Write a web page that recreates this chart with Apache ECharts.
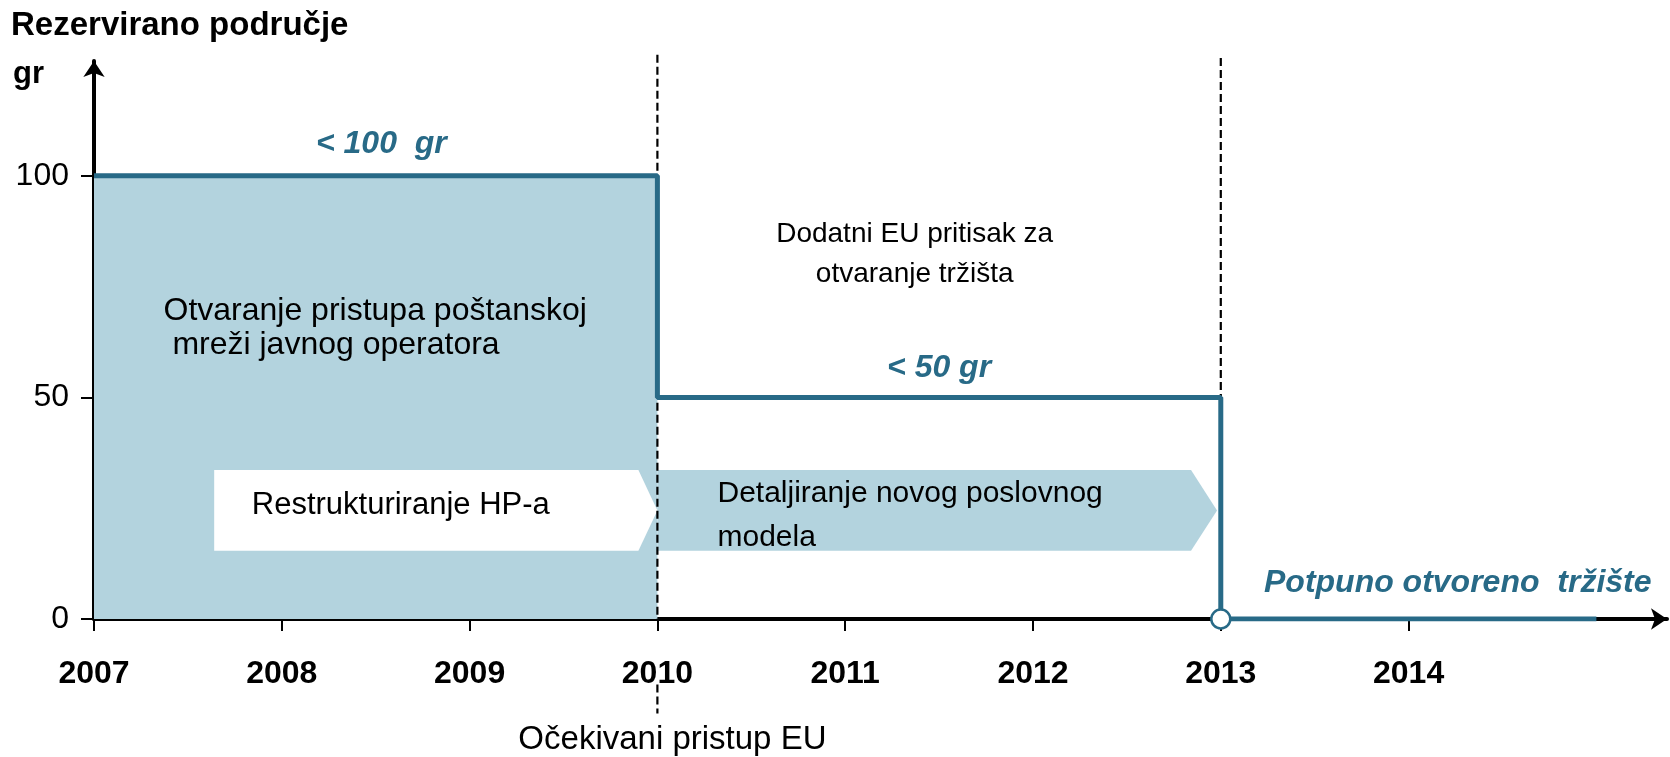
<!DOCTYPE html>
<html><head><meta charset="utf-8">
<script src="https://cdn.jsdelivr.net/npm/echarts@6/dist/echarts.min.js"></script>
<style>html,body{margin:0;padding:0;background:#fff}#c{width:1670px;height:757px}</style>
</head><body><div id="c"></div>
<script>
// ---- data ----
const yearTicks = [2007, 2008, 2009, 2010, 2011, 2012, 2013, 2014];
const valueTicks = [0, 50, 100];
const periodStart = [2007, 2010, 2013];
const periodEnd = [2010, 2013, 2015];
const periodLimit = [100, 50, 0];
const limitLabels = ['< 100  gr', '< 50 gr', 'Potpuno otvoreno  tržište'];
const limitLabelAt = [[2008.53, 107.2], [2011.5, 56.7], [2013.23, 8.0]];
const limitLabelAlign = ['center', 'center', 'left'];
const milestoneYears = [2010, 2013];
const milestoneTop = [127.3, 126.6];
const milestoneLabel = 'Očekivani pristup EU';
const milestoneLabelAt = [2010.08, -27.3];
const phaseNames = ['Restrukturiranje HP-a', 'Detaljiranje novog poslovnog\nmodela'];
const phaseStart = [2007.64, 2010];
const phaseEnd = [2010, 2012.98];
const phaseLow = [15.4, 15.4];
const phaseHigh = [33.6, 33.6];
const phaseTextAt = [[2007.84, 25.6], [2010.32, 23.3]];
const notes = ['Otvaranje pristupa poštanskoj\n mreži javnog operatora', 'Dodatni EU pritisak za\notvaranje tržišta'];
const noteAt = [[2007.37, 65.7], [2011.37, 82.3]];
const noteAlign = ['left', 'center'];

// ---- styles ----
const FONT = '"Liberation Sans", Arial, Helvetica, sans-serif';
const BLUE = '#286a87';
const FILL = '#b3d3de';
const X_MAX = 2015.376, Y_MAX = 125.9;
const phaseFont = [31, 30];
const noteFont = [32, 28];
const noteLH = [34, 40];

const chart = echarts.init(document.getElementById('c'), null, {renderer: 'canvas'});

const stepData = [];
periodStart.forEach((s, i) => { stepData.push([s, periodLimit[i]]); stepData.push([periodEnd[i], periodLimit[i]]); });

const option = {
  animation: false,
  backgroundColor: '#fff',
  title: [
    {text: 'Rezervirano područje', left: 6, top: 4, textStyle: {fontFamily: FONT, fontSize: 33, fontWeight: 'bold', color: '#000'}},
    {text: 'gr', left: 8, top: 54, textStyle: {fontFamily: FONT, fontSize: 31, fontWeight: 'bold', color: '#000'}}
  ],
  grid: {left: 94, right: 3, top: 61, bottom: 138, containLabel: false},
  xAxis: {
    type: 'value', min: 2007, max: X_MAX,
    splitLine: {show: false},
    axisLine: {lineStyle: {color: '#000', width: 4}, symbol: ['none', 'arrow'], symbolSize: [16, 16]},
    axisTick: {customValues: yearTicks, length: 12, lineStyle: {color: '#000', width: 2}},
    axisLabel: {customValues: yearTicks, formatter: v => String(v), margin: 39, fontFamily: FONT, fontSize: 32, fontWeight: 'bold', color: '#000'}
  },
  yAxis: {
    type: 'value', min: 0, max: Y_MAX,
    splitLine: {show: false},
    axisLine: {onZero: false, lineStyle: {color: '#000', width: 4}, symbol: ['none', 'arrow'], symbolSize: [16, 16]},
    axisTick: {customValues: valueTicks, length: 13, lineStyle: {color: '#000', width: 2}},
    axisLabel: {customValues: valueTicks, margin: 25, fontFamily: FONT, fontSize: 32, color: '#000'}
  },
  series: [
    { // filled reserved area of the first period
      type: 'custom', z: 1, silent: true,
      data: [[periodStart[0], periodEnd[0], periodLimit[0]]],
      renderItem: (params, api) => {
        const a = api.coord([api.value(0), api.value(2)]);
        const b = api.coord([api.value(1), 0]);
        return {type: 'rect', shape: {x: a[0], y: a[1], width: b[0] - a[0], height: b[1] - a[1]}, style: {fill: FILL}};
      }
    },
    { // phase chevrons
      type: 'custom', z: 2, silent: true,
      data: phaseNames.map((n, i) => [phaseStart[i], phaseEnd[i], phaseLow[i], phaseHigh[i], i]),
      renderItem: (params, api) => {
        const i = api.value(4);
        const tl = api.coord([api.value(0), api.value(3)]);
        const br = api.coord([api.value(1), api.value(2)]);
        const d = i === 0 ? 19 : 26;
        const mid = (tl[1] + br[1]) / 2;
        const pts = [[tl[0], tl[1]], [br[0] - d, tl[1]], [br[0], mid], [br[0] - d, br[1]], [tl[0], br[1]]];
        const t = api.coord(phaseTextAt[i]);
        return {type: 'group', children: [
          {type: 'polygon', shape: {points: pts}, style: {fill: i === 0 ? '#fff' : FILL}},
          {type: 'text', z2: 10, style: {text: phaseNames[i], x: t[0], y: t[1], fill: '#000', fontFamily: FONT, fontSize: phaseFont[i], align: 'left', verticalAlign: 'middle', lineHeight: 44}}
        ]};
      }
    },
    { // milestone dashed lines
      type: 'custom', z: 3, silent: true,
      data: milestoneYears.map((y, i) => [y, milestoneTop[i]]),
      renderItem: (params, api) => {
        const yr = api.value(0);
        const top = api.coord([yr, api.value(1)]);
        const bot = api.coord([yr, 0]);
        const dash = {stroke: '#000', lineWidth: 2.2, lineDash: [8, 4]};
        const children = [{type: 'line', shape: {x1: top[0], y1: top[1], x2: bot[0], y2: bot[1]}, style: dash}];
        if (params.dataIndex === 0) {
          const a = api.coord([yr, -14.8]);
          const b = api.coord([yr, -21.3]);
          children.push({type: 'line', shape: {x1: a[0], y1: a[1], x2: b[0], y2: b[1]}, style: dash});
          const t = api.coord(milestoneLabelAt);
          children.push({type: 'text', style: {text: milestoneLabel, x: t[0], y: t[1], fill: '#000', fontFamily: FONT, fontSize: 33, align: 'center', verticalAlign: 'middle'}});
        }
        return {type: 'group', children};
      }
    },
    { // reserved-area limit step line
      type: 'line', z: 4, silent: true,
      data: stepData, symbol: 'none',
      lineStyle: {color: BLUE, width: 5}
    },
    { // full opening point
      type: 'scatter', z: 5, silent: true,
      data: [[periodStart[2], periodLimit[2]]],
      symbol: 'circle', symbolSize: 19,
      itemStyle: {color: '#fff', borderColor: BLUE, borderWidth: 2.5, opacity: 1}
    },
    { // text annotations
      type: 'custom', z: 6, silent: true,
      data: limitLabels.map((t, i) => [i]).concat(notes.map((t, i) => [10 + i])),
      renderItem: (params, api) => {
        const k = api.value(0);
        if (k < 10) {
          const p = api.coord(limitLabelAt[k]);
          return {type: 'text', style: {text: limitLabels[k], x: p[0], y: p[1], fill: BLUE, fontFamily: FONT, fontSize: 32, fontWeight: 'bold', fontStyle: 'italic', align: limitLabelAlign[k], verticalAlign: 'middle'}};
        }
        const j = k - 10;
        const p = api.coord(noteAt[j]);
        return {type: 'text', style: {text: notes[j], x: p[0], y: p[1], fill: '#000', fontFamily: FONT, fontSize: noteFont[j], align: noteAlign[j], verticalAlign: 'middle', lineHeight: noteLH[j]}};
      }
    }
  ]
};
chart.setOption(option);
</script></body></html>
